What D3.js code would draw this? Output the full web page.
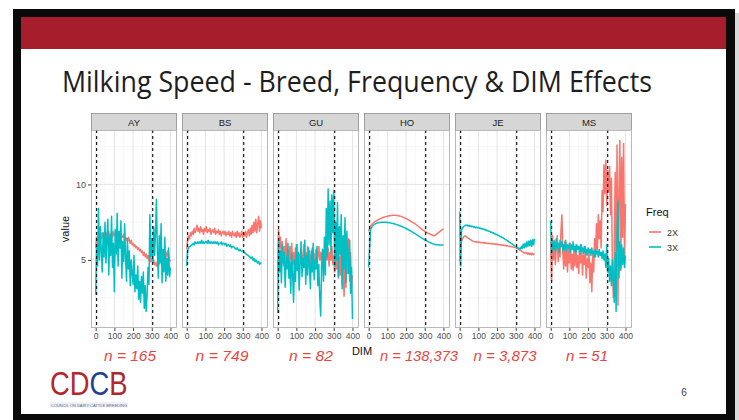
<!DOCTYPE html>
<html>
<head>
<meta charset="utf-8">
<script src="https://cdn.jsdelivr.net/npm/d3@7"></script>
<style>
  html, body { margin: 0; padding: 0; background: #ffffff; }
  svg { display: block; }
</style>
</head>
<body>
<svg id="chart" width="739" height="420"></svg>
<script>
// ---------------- DATA ----------------
const breeds = ["AY", "BS", "GU", "HO", "JE", "MS"];
const nLabels = ["n = 165", "n = 749", "n = 82", "n = 138,373", "n = 3,873", "n = 51"];
const freqLevels = ["2X", "3X"];
const xTicks = [0, 100, 200, 300, 400];
const xMinor = [50, 150, 250, 350];
const yTicks = [5, 10];
const yMinor = [2.5, 7.5, 12.5];
const dimLines = [5, 305];

const dimStep5 = [0,5,10,15,20,25,30,35,40,45,50,55,60,65,70,75,80,85,90,95,
  100,105,110,115,120,125,130,135,140,145,150,155,160,165,170,175,180,185,190,195,
  200,205,210,215,220,225,230,235,240,245,250,255,260,265,270,275,280,285,290,295,
  300,305,310,315,320,325,330,335,340,345,350,355,360,365,370,375,380,385,390,395,400];
const dimStep10 = [0,10,20,30,40,50,60,70,80,90,100,110,120,130,140,150,160,170,180,190,
  200,210,220,230,240,250,260,270,280,290,300,310,320,330,340,350,360,370,380,390,400];

const AY_2X = [5.8,6.5,6.2,6.6,6.3,6.7,6.4,6.8,6.5,6.6,
  6.9,6.5,6.8,6.6,6.9,6.5,6.7,6.8,6.5,6.9,
  6.6,6.8,6.7,6.5,6.8,6.6,6.7,6.4,6.6,6.5,
  6.7,6.3,6.5,6.4,6.2,6.5,6.3,6.1,6.3,6.0,
  6.1,5.9,6.0,5.8,5.9,5.7,5.8,5.6,5.7,5.5,
  5.6,5.3,5.5,5.2,5.4,5.1,5.3,5.0,5.2,4.9,
  5.1,4.8,5.0,4.7,4.8,4.6,4.9,4.6,4.8,5.1,
  4.9,5.3,5.0,5.4,5.1,5.5,5.2,5.6,5.3,5.0, 4.9];
const AY_3X = [2.7,6.0,4.6,8.4,5.0,7.2,5.6,4.2,6.8,5.2,
  7.5,4.8,6.3,7.7,4.0,6.6,5.3,7.9,4.5,6.1,
  2.9,7.0,5.4,8.1,4.6,6.9,5.8,7.6,3.8,6.2,
  4.9,7.4,5.2,3.6,6.4,4.4,5.6,3.3,5.0,4.1,
  3.4,5.3,2.9,4.0,3.1,4.6,2.4,3.6,2.2,3.9,
  2.8,4.2,1.8,3.3,1.6,2.7,4.5,3.4,8.0,5.2,
  6.4,4.9,7.2,5.3,6.8,9.0,5.6,3.8,6.6,4.8,
  7.4,3.5,5.7,4.2,6.5,3.6,5.1,4.0,5.8,3.9, 4.5];

const BS_2X = [5.7,6.3,6.6,6.4,6.8,6.6,6.9,6.7,7.1,6.8,
  7.0,7.3,6.9,7.1,6.8,7.2,6.9,7.0,6.7,7.1,
  6.9,7.2,6.8,7.0,6.9,7.1,6.7,6.9,7.0,6.8,
  7.1,6.7,6.9,6.8,7.0,6.7,6.9,6.6,6.8,6.9,
  6.7,6.9,6.6,6.8,6.7,6.9,6.6,6.8,6.5,6.9,
  6.7,6.6,6.8,6.5,6.9,6.6,6.8,6.5,6.7,6.9,
  6.5,6.8,6.6,6.9,6.5,6.8,7.0,6.6,7.1,6.7,
  7.3,6.8,7.5,6.9,7.7,6.8,7.4,7.9,6.9,7.6, 7.1];
const BS_3X = [4.6,5.6,5.8,5.9,5.9,6.0,6.0,6.1,6.0,6.2,
  6.1,6.1,6.2,6.1,6.2,6.1,6.3,6.1,6.2,6.1,
  6.2,6.2,6.1,6.3,6.1,6.2,6.1,6.2,6.1,6.2,
  6.1,6.2,6.1,6.2,6.0,6.1,6.1,6.2,6.0,6.1,
  6.1,6.0,6.1,5.9,6.0,6.0,5.9,6.0,5.8,5.9,
  5.9,5.8,5.8,5.7,5.8,5.7,5.6,5.7,5.6,5.6,
  5.6,5.5,5.5,5.4,5.4,5.3,5.3,5.2,5.2,5.1,
  5.2,5.0,5.1,4.9,5.0,4.9,4.8,4.9,4.7,4.8, 4.8];

const GU_2X = [4.0,7.0,5.8,6.5,5.0,6.2,4.6,5.9,5.2,6.4,
  4.8,5.6,4.3,5.9,5.0,6.1,4.7,5.5,4.4,5.8,
  5.1,6.0,4.6,5.4,4.9,5.7,4.5,5.3,6.0,4.8,
  5.5,4.6,5.9,5.0,5.6,4.4,5.2,5.8,4.7,5.4,
  5.0,5.7,4.6,5.3,5.9,5.0,5.5,4.8,5.6,5.1,
  5.7,4.9,5.4,5.0,5.8,4.6,5.5,5.0,5.9,4.7,
  5.3,4.2,5.6,4.4,5.9,3.8,5.2,4.0,6.3,3.4,
  5.0,2.6,4.6,3.2,5.8,4.1,6.4,3.6,5.5,3.2, 4.0];
const GU_3X = [1.5,6.2,4.2,5.6,3.5,6.0,4.8,5.5,3.2,5.2,
  4.4,6.1,3.8,4.9,2.8,5.4,4.1,2.2,5.0,3.6,
  6.0,4.3,5.5,3.0,4.8,6.2,3.9,5.1,4.5,6.3,
  3.4,5.3,4.0,5.8,4.6,3.1,5.6,4.2,6.1,3.7,
  5.0,4.4,5.9,3.3,4.7,2.5,1.3,4.5,5.7,3.6,
  6.5,4.0,8.4,5.2,9.7,6.0,8.9,5.5,9.3,6.8,
  9.6,4.6,7.5,5.0,8.8,3.9,7.2,5.4,8.0,3.1,
  6.6,4.4,7.8,3.5,6.9,5.2,4.1,6.3,2.8,4.5, 1.1];

const HO_2X = [6.9,7.25,7.4,7.5,7.58,7.65,7.72,7.78,7.83,7.87,
  7.9,7.93,7.95,7.96,7.96,7.95,7.93,7.9,7.85,7.8,
  7.75,7.68,7.6,7.52,7.45,7.38,7.28,7.18,7.08,6.98,
  6.9,6.83,6.76,6.7,6.64,6.6,6.68,6.78,6.88,6.97, 7.05];
const HO_3X = [4.5,7.0,7.25,7.35,7.42,7.46,7.48,7.5,7.5,7.5,
  7.48,7.46,7.44,7.41,7.38,7.34,7.3,7.25,7.2,7.14,
  7.08,7.02,6.95,6.88,6.8,6.72,6.64,6.56,6.48,6.41,
  6.34,6.27,6.2,6.14,6.08,6.04,6.01,6.0,5.99,5.99, 5.99];

const JE_2X = [4.9,6.0,6.25,6.4,6.5,6.58,6.6,6.55,6.5,6.45,
  6.42,6.36,6.33,6.28,6.26,6.22,6.2,6.21,6.17,6.2,
  6.16,6.19,6.14,6.17,6.13,6.16,6.12,6.14,6.1,6.13,
  6.09,6.11,6.08,6.1,6.06,6.09,6.05,6.07,6.03,6.06,
  6.02,6.04,6.0,6.03,5.99,6.01,5.97,5.99,5.95,5.97,
  5.93,5.95,5.91,5.92,5.89,5.9,5.87,5.86,5.85,5.83,
  5.82,5.78,5.75,5.7,5.67,5.62,5.6,5.55,5.52,5.47,
  5.5,5.42,5.48,5.38,5.46,5.36,5.45,5.34,5.44,5.35, 5.4];
const JE_3X = [8.2,4.6,7.0,7.1,7.2,7.25,7.3,7.28,7.32,7.25,
  7.3,7.22,7.26,7.2,7.23,7.17,7.2,7.14,7.18,7.12,
  7.15,7.1,7.12,7.06,7.08,7.03,7.05,6.98,7.0,6.94,
  6.95,6.9,6.9,6.84,6.85,6.79,6.8,6.73,6.74,6.68,
  6.68,6.62,6.62,6.56,6.55,6.5,6.48,6.43,6.4,6.35,
  6.32,6.27,6.24,6.18,6.15,6.1,6.06,6.02,5.98,5.93,
  5.9,5.84,5.82,5.76,5.78,5.72,5.9,5.75,6.05,5.8,
  6.1,5.85,6.2,5.9,6.25,5.95,6.3,5.9,6.35,6.0, 6.4];

const MS_2X = [6.2,3.6,6.6,5.0,6.3,4.7,5.8,6.6,4.9,6.0,
  5.2,6.9,8.0,5.5,4.4,6.2,4.6,5.7,4.2,5.9,
  4.8,6.1,4.4,5.4,4.3,5.8,4.6,6.0,4.5,5.3,
  4.1,5.6,4.8,6.0,4.0,5.3,4.7,5.9,3.8,5.1,
  4.5,5.6,3.5,4.8,2.9,5.5,4.2,6.4,5.2,7.4,
  5.7,8.0,6.4,7.6,5.8,9.6,8.2,11.3,9.4,11.6,
  8.6,10.9,9.5,11.2,8.0,10.4,4.6,2.5,5.4,10.8,
  3.0,12.6,2.0,9.5,12.9,4.3,11.8,6.5,12.7,5.2, 8.7];
const MS_3X = [7.6,5.4,6.3,5.7,6.2,5.6,6.4,5.8,6.1,5.5,
  6.3,5.9,6.2,5.6,6.0,5.7,6.3,5.6,6.0,5.8,
  6.1,5.5,6.0,5.7,6.2,5.6,5.9,5.5,6.0,5.7,
  5.9,5.4,6.0,5.6,5.8,5.4,5.9,5.5,5.7,5.3,
  5.8,5.5,5.7,5.3,5.8,5.4,5.6,5.2,5.7,5.4,
  5.6,5.2,5.7,5.3,5.5,5.1,5.6,5.0,5.4,4.5,
  6.0,4.2,5.1,3.6,4.6,3.3,5.0,4.0,2.2,5.5,
  1.6,6.6,8.9,3.8,6.2,4.4,6.0,4.7,5.8,4.5, 5.3];

// table built from the arrays above
const panelData = {
  AY: { dims: dimStep5,  "2X": AY_2X, "3X": AY_3X },
  BS: { dims: dimStep5,  "2X": BS_2X, "3X": BS_3X },
  GU: { dims: dimStep5,  "2X": GU_2X, "3X": GU_3X },
  HO: { dims: dimStep10, "2X": HO_2X, "3X": HO_3X },
  JE: { dims: dimStep5,  "2X": JE_2X, "3X": JE_3X },
  MS: { dims: dimStep5,  "2X": MS_2X, "3X": MS_3X }
};

// ---------------- DRAWING ----------------
const svg = d3.select("#chart");
const colors = d3.scaleOrdinal().domain(freqLevels).range(["#F8766D", "#00BFC4"]);

// slide frame
svg.append("rect").attr("x", 735).attr("y", 13).attr("width", 4).attr("height", 407).attr("fill", "#d9d9d9");
svg.append("rect").attr("x", 13).attr("y", 9).attr("width", 722).attr("height", 411).attr("fill", "#0a0a0a");
svg.append("rect").attr("x", 21).attr("y", 17).attr("width", 705).attr("height", 397).attr("fill", "#ffffff");
svg.append("rect").attr("x", 21).attr("y", 17).attr("width", 705).attr("height", 32).attr("fill", "#A61E2B");

svg.append("text")
  .attr("x", 62).attr("y", 92)
  .attr("font-family", "'Open Sans', 'Noto Sans', sans-serif")
  .attr("font-size", 30)
  .attr("fill", "#1e1e1e")
  .attr("textLength", 590)
  .attr("lengthAdjust", "spacingAndGlyphs")
  .text("Milking Speed - Breed, Frequency & DIM Effects");

// facet geometry
const firstLeft = 91, step = 91, panelW = 86;
const stripTop = 113, stripH = 17, panelTop = 130, panelBottom = 328;
const y = d3.scaleLinear().domain([0.5, 13.6]).range([panelBottom, panelTop]);
const axisFont = "'Liberation Sans', Arial, sans-serif";

breeds.forEach((b, i) => {
  const left = firstLeft + i * step;
  const x = d3.scaleLinear().domain([-25, 435]).range([left, left + panelW]);
  const g = svg.append("g");

  // strip
  g.append("rect").attr("x", left + 0.5).attr("y", stripTop + 0.5)
    .attr("width", panelW - 1).attr("height", stripH)
    .attr("fill", "#d6d6d6").attr("stroke", "#8c8c8c").attr("stroke-width", 0.8);
  g.append("text").attr("x", left + panelW / 2).attr("y", stripTop + 12.5)
    .attr("text-anchor", "middle").attr("font-family", axisFont)
    .attr("font-size", 9.5).attr("fill", "#222").text(b);

  // panel bg
  g.append("rect").attr("x", left).attr("y", panelTop)
    .attr("width", panelW).attr("height", panelBottom - panelTop).attr("fill", "#fff");

  // grid
  g.selectAll(".ymin").data(yMinor).join("line")
    .attr("x1", left).attr("x2", left + panelW)
    .attr("y1", d => y(d)).attr("y2", d => y(d))
    .attr("stroke", "#f2f2f2").attr("stroke-width", 0.6);
  g.selectAll(".xmin").data(xMinor).join("line")
    .attr("y1", panelTop).attr("y2", panelBottom)
    .attr("x1", d => x(d)).attr("x2", d => x(d))
    .attr("stroke", "#f2f2f2").attr("stroke-width", 0.6);
  g.selectAll(".ymaj").data(yTicks).join("line")
    .attr("x1", left).attr("x2", left + panelW)
    .attr("y1", d => y(d)).attr("y2", d => y(d))
    .attr("stroke", "#e4e4e4").attr("stroke-width", 1);
  g.selectAll(".xmaj").data(xTicks).join("line")
    .attr("y1", panelTop).attr("y2", panelBottom)
    .attr("x1", d => x(d)).attr("x2", d => x(d))
    .attr("stroke", "#e4e4e4").attr("stroke-width", 1);

  // series lines
  const pd = panelData[b];
  freqLevels.forEach(f => {
    const pts = pd.dims.map((d, k) => [d, pd[f][k]]);
    g.append("path").datum(pts)
      .attr("fill", "none")
      .attr("stroke", colors(f))
      .attr("stroke-width", 1.5)
      .attr("stroke-linejoin", "round")
      .attr("d", d3.line().x(p => x(p[0])).y(p => y(p[1])));
  });

  // dashed vertical lines
  g.selectAll(".vl").data(dimLines).join("line")
    .attr("x1", d => x(d)).attr("x2", d => x(d))
    .attr("y1", panelTop).attr("y2", panelBottom)
    .attr("stroke", "#1a1a1a").attr("stroke-width", 1.2)
    .attr("stroke-dasharray", "3,3");

  // panel border
  g.append("rect").attr("x", left + 0.5).attr("y", panelTop + 0.5)
    .attr("width", panelW - 1).attr("height", panelBottom - panelTop - 1)
    .attr("fill", "none").attr("stroke", "#a9a9a9").attr("stroke-width", 0.8);

  // x axis
  const xa = g.append("g").attr("transform", `translate(0,${panelBottom})`)
    .call(d3.axisBottom(x).tickValues(xTicks).tickSize(3).tickPadding(1.5).tickFormat(d3.format("d")));
  xa.select(".domain").remove();
  xa.selectAll("line").attr("stroke", "#444");
  xa.selectAll("text").attr("font-family", axisFont).attr("font-size", 8.6).attr("fill", "#4d4d4d");

  // y axis on first panel
  if (i === 0) {
    const ya = g.append("g").attr("transform", `translate(${left},0)`)
      .call(d3.axisLeft(y).tickValues(yTicks).tickSize(3).tickPadding(2));
    ya.select(".domain").remove();
    ya.selectAll("line").attr("stroke", "#444");
    ya.selectAll("text").attr("font-family", axisFont).attr("font-size", 9).attr("fill", "#4d4d4d");
  }
});

// axis titles
svg.append("text").attr("transform", `translate(69,${(panelTop + panelBottom) / 2}) rotate(-90)`)
  .attr("text-anchor", "middle").attr("font-family", axisFont).attr("font-size", 11)
  .attr("fill", "#111").text("value");
svg.append("text").attr("x", 362).attr("y", 355)
  .attr("text-anchor", "middle").attr("font-family", axisFont).attr("font-size", 11)
  .attr("fill", "#111").text("DIM");

// legend
svg.append("text").attr("x", 646).attr("y", 216).attr("font-family", axisFont)
  .attr("font-size", 11).attr("fill", "#111").text("Freq");
freqLevels.forEach((f, k) => {
  const ly = 232 + k * 15;
  svg.append("line").attr("x1", 649).attr("x2", 661).attr("y1", ly).attr("y2", ly)
    .attr("stroke", colors(f)).attr("stroke-width", 1.6);
  svg.append("text").attr("x", 667).attr("y", ly + 3.5).attr("font-family", axisFont)
    .attr("font-size", 9).attr("fill", "#333").text(f);
});

// n labels
const nCenters = [130, 222, 311, 419, 505, 587];
const nWidths = [52, 53, 44, 78, 63, 42];
nLabels.forEach((t, i) => {
  svg.append("text").attr("x", nCenters[i] - nWidths[i] / 2).attr("y", 361)
    .attr("font-family", axisFont).attr("font-style", "italic")
    .attr("font-size", 15.5).attr("fill", "#E8453E")
    .attr("textLength", nWidths[i]).attr("lengthAdjust", "spacingAndGlyphs")
    .text(t);
});

// logo (single text, coloured letters, horizontally condensed by a transform)
const logoLetters = ["C", "D", "C", "B"];
const logoColors = ["#B0272E", "#B0272E", "#21428F", "#B0272E"];
const logo = svg.append("text")
  .attr("transform", "translate(50,395) scale(0.83,1)")
  .attr("font-family", axisFont)
  .attr("font-size", 33);
logoLetters.forEach((ch, k) => {
  logo.append("tspan").attr("fill", logoColors[k]).text(ch);
});
svg.append("rect").attr("x", 50).attr("y", 402).attr("width", 78).attr("height", 5.5).attr("fill", "#eef0f5");
svg.append("text").attr("x", 51).attr("y", 406.5)
  .attr("font-family", axisFont).attr("font-size", 4)
  .attr("fill", "#5a6a8a").attr("textLength", 76).attr("lengthAdjust", "spacingAndGlyphs")
  .text("COUNCIL ON DAIRY CATTLE BREEDING");

// page number
svg.append("text").attr("x", 684).attr("y", 396).attr("text-anchor", "middle")
  .attr("font-family", axisFont).attr("font-size", 10).attr("fill", "#444").text("6");
</script>
</body>
</html>
